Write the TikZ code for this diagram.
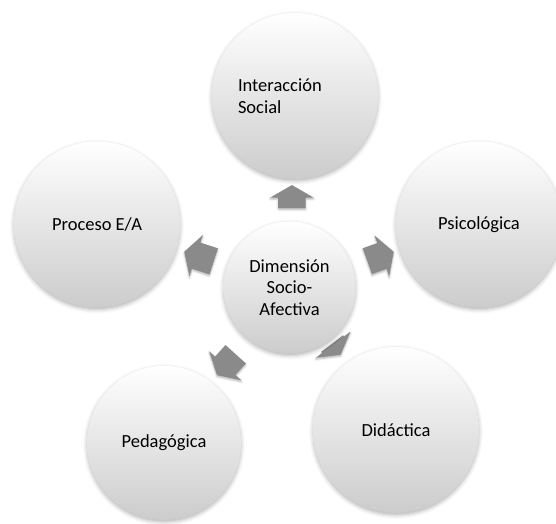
\documentclass[tikz,border=0pt]{standalone}
\usepackage{fontspec}
\setmainfont{Carlito}
\usetikzlibrary{shapes.arrows,shadows.blur,calc,backgrounds}

\definecolor{flecha}{RGB}{138,138,138}
\definecolor{fondo}{RGB}{204,204,204}

\tikzset{
    circulo/.style={circle, minimum size=#1, inner sep=0pt, top color=white, bottom color=fondo,
        blur shadow={shadow xshift=0pt, shadow yshift=-2pt, shadow blur radius=4pt, shadow opacity=30},
        font=\fontsize{18.5}{21.5}\selectfont, align=center},
    bloque/.style={single arrow, fill=flecha, inner xsep=0pt, inner ysep=13.5pt,
        single arrow head extend=8pt, single arrow tip angle=120,
        blur shadow={shadow xshift=0pt, shadow yshift=-1.5pt, shadow blur radius=2pt, shadow opacity=30}}
}

\begin{document}
\begin{tikzpicture}
    \useasboundingbox (0,0) rectangle (556pt,523pt);

    % ~~~~ Centro ~~~~ %
    \node[circulo=132pt] (centro) at (289.5pt,235.5pt) {Dimensión\\Socio-\\Afectiva};

    % ~~~~ Dimensiones ~~~~ %
    \node[circulo=166pt, text width=114pt, align=left] (social) at (295pt,427pt) {Interacción\\Social};
    \node[circulo=166pt] (proceso) at (97pt,298.5pt) {Proceso E/A};
    \node[circulo=166pt] (psico) at (479pt,298.5pt) {Psicológica};
    \node[circulo=154pt] (pedag) at (164pt,80pt) {Pedagógica};
    \node[circulo=166pt] (didac) at (396pt,93pt) {Didáctica};

    % ~~~~ Flechas ~~~~ %
    \begin{scope}[on background layer]
        \foreach \ang/\dist/\rot/\largo [count=\i] in
            {88.4/87pt/90/23pt, 161.1/91.7pt/162/31pt, 18.8/92.2pt/19.7/28pt,
             -129.2/95.8pt/-132/28pt, -52.7/73.5pt/-53/14pt}
            \node[bloque, minimum height=\largo, rotate=\rot] (flecha\i) at ($(centro)+(\ang:\dist)$) {};
    \end{scope}
\end{tikzpicture}
\end{document}
